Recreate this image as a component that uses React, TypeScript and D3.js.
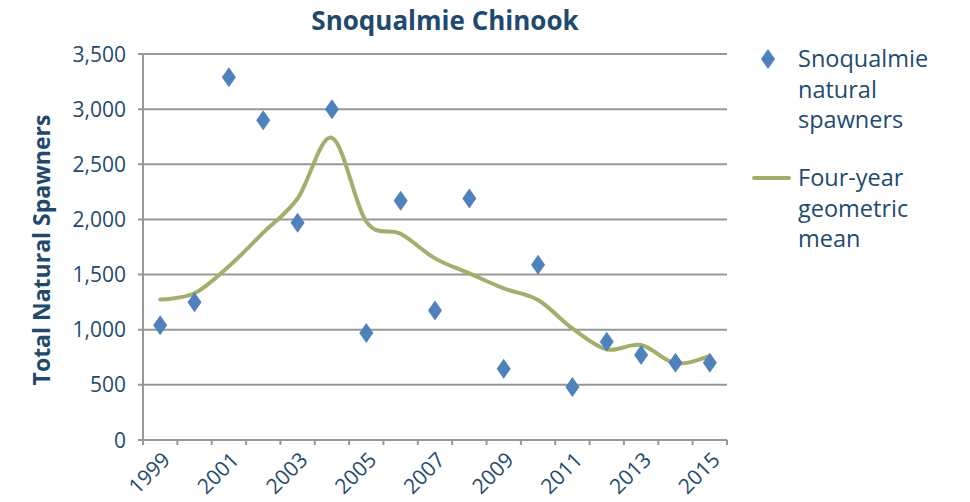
import React, { useEffect, useRef } from 'react';
import * as d3 from 'd3';

// Snoqualmie Chinook spawner counts
const years = [
  '1999', '2000', '2001', '2002', '2003', '2004', '2005', '2006', '2007',
  '2008', '2009', '2010', '2011', '2012', '2013', '2014', '2015',
];
const spawners = [
  1040, 1250, 3290, 2900, 1970, 3000, 970, 2170, 1175,
  2190, 645, 1590, 480, 890, 770, 700, 700,
];
const geoMean = [
  1275, 1330, 1575, 1880, 2190, 2740, 1980, 1870, 1647,
  1511, 1375, 1269, 1012, 822, 861, 695, 762,
];
const yTicks = [0, 500, 1000, 1500, 2000, 2500, 3000, 3500];
const legendSpawners = ['Snoqualmie', 'natural', 'spawners'];
const legendMean = ['Four-year', 'geometric', 'mean'];

const W = 970;
const H = 502;
const FONT = '"Open Sans", "Noto Sans", sans-serif';
const TEXT = '#1f4a6e';
const DIAMOND = '#4f81bd';
const LINE = '#a0b06c';
const GRID = '#979797';

const App = () => {
  const ref = useRef<SVGSVGElement | null>(null);

  useEffect(() => {
    const svg = d3.select(ref.current);
    svg.selectAll('*').remove();

    const left = 143;
    const right = 727;
    const top = 54;
    const bottom = 440;

    const x = d3.scaleBand<string>().domain(years).range([left, right]).padding(0);
    const y = d3.scaleLinear().domain([0, 3500]).range([bottom, top]);
    const cx = (yr: string) => (x(yr) as number) + x.bandwidth() / 2;

    // gridlines (extend left as tick marks)
    svg
      .append('g')
      .selectAll('line')
      .data(yTicks)
      .enter()
      .append('line')
      .attr('x1', left - 5)
      .attr('x2', right)
      .attr('y1', (d) => y(d))
      .attr('y2', (d) => y(d))
      .attr('stroke', GRID)
      .attr('stroke-width', 2);

    // y tick labels
    svg
      .append('g')
      .selectAll('text')
      .data(yTicks)
      .enter()
      .append('text')
      .attr('x', 126)
      .attr('y', (d) => y(d))
      .attr('dy', '0.36em')
      .attr('text-anchor', 'end')
      .attr('font-family', FONT)
      .attr('font-size', 21)
      .attr('fill', TEXT)
      .text((d) => d3.format(',')(d));

    // y axis line
    svg
      .append('line')
      .attr('x1', left)
      .attr('x2', left)
      .attr('y1', top)
      .attr('y2', bottom)
      .attr('stroke', GRID)
      .attr('stroke-width', 2);

    // x axis ticks at band edges
    const edges = years.map((yr) => x(yr) as number).concat([right]);
    svg
      .append('g')
      .selectAll('line')
      .data(edges)
      .enter()
      .append('line')
      .attr('x1', (d) => d)
      .attr('x2', (d) => d)
      .attr('y1', bottom)
      .attr('y2', bottom + 5)
      .attr('stroke', GRID)
      .attr('stroke-width', 2);

    // x labels, every other year
    svg
      .append('g')
      .selectAll('text')
      .data(years.filter((d, i) => i % 2 === 0))
      .enter()
      .append('text')
      .attr('transform', (d) => `translate(${cx(d) + 6},${bottom + 16}) rotate(-45)`)
      .attr('dy', '0.36em')
      .attr('text-anchor', 'end')
      .attr('font-family', FONT)
      .attr('font-size', 21)
      .attr('fill', TEXT)
      .text((d) => d);

    // four-year geometric mean
    const line = d3
      .line<number>()
      .x((d, i) => cx(years[i]))
      .y((d) => y(d))
      .curve(d3.curveCardinal.tension(0));

    svg
      .append('path')
      .datum(geoMean)
      .attr('d', line)
      .attr('fill', 'none')
      .attr('stroke', LINE)
      .attr('stroke-width', 4)
      .attr('stroke-linecap', 'round');

    // diamonds
    const diamond = (px: number, py: number) =>
      `M${px},${py - 10}L${px + 7},${py}L${px},${py + 10}L${px - 7},${py}Z`;

    svg
      .append('g')
      .selectAll('path')
      .data(spawners)
      .enter()
      .append('path')
      .attr('d', (d, i) => diamond(cx(years[i]), y(d)))
      .attr('fill', DIAMOND);

    // title
    svg
      .append('text')
      .attr('x', 445)
      .attr('y', 30)
      .attr('text-anchor', 'middle')
      .attr('font-family', FONT)
      .attr('font-weight', 'bold')
      .attr('font-size', 26)
      .attr('fill', TEXT)
      .text('Snoqualmie Chinook');

    // y axis title
    svg
      .append('text')
      .attr('transform', 'translate(50,250) rotate(-90)')
      .attr('text-anchor', 'middle')
      .attr('font-family', FONT)
      .attr('font-weight', 'bold')
      .attr('font-size', 23)
      .attr('fill', TEXT)
      .text('Total Natural Spawners');

    // legend
    const lg = svg.append('g');
    lg.append('path').attr('d', diamond(768, 59)).attr('fill', DIAMOND);
    lg.append('line')
      .attr('x1', 754)
      .attr('x2', 789)
      .attr('y1', 178)
      .attr('y2', 178)
      .attr('stroke', LINE)
      .attr('stroke-width', 4)
      .attr('stroke-linecap', 'round');

    const legendText = (lines: string[], baseline: number) => {
      lg.append('g')
        .selectAll('text')
        .data(lines)
        .enter()
        .append('text')
        .attr('x', 798)
        .attr('y', (d, i) => baseline + i * 30.5)
        .attr('font-family', FONT)
        .attr('font-size', 23.5)
        .attr('fill', TEXT)
        .text((d) => d);
    };
    legendText(legendSpawners, 67);
    legendText(legendMean, 186);
  }, []);

  return (
    <svg
      ref={ref}
      width={W}
      height={H}
      style={{ position: 'absolute', left: 0, top: 0, background: '#fff' }}
    />
  );
};

export default App;
